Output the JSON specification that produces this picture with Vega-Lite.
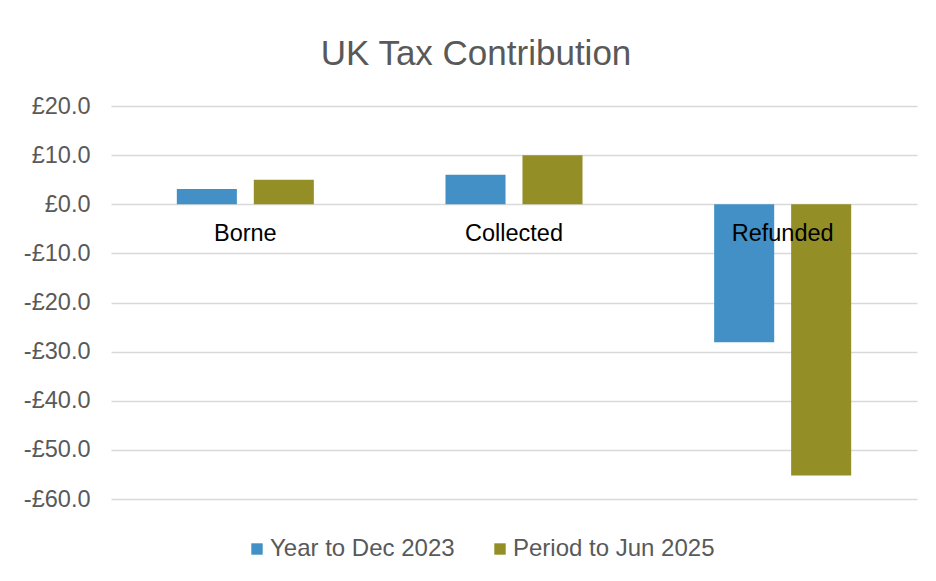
{
  "$schema": "https://vega.github.io/schema/vega-lite/v6.json",
  "autosize": "none",
  "width": 806,
  "height": 393,
  "padding": {"left": 111, "top": 106, "right": 19, "bottom": 82},
  "background": "white",
  "config": {
    "font": "Liberation Sans",
    "view": {"stroke": null}
  },
  "title": {
    "text": "UK Tax Contribution",
    "fontSize": 35,
    "fontWeight": "normal",
    "color": "#595959",
    "font": "Liberation Sans",
    "anchor": "middle",
    "baseline": "alphabetic",
    "offset": 40,
    "dx": -38,
    "dy": 46
  },
  "data": {
    "values": [
      {"category": "Borne", "series": "Year to Dec 2023", "value": 3.1},
      {"category": "Borne", "series": "Period to Jun 2025", "value": 5.0},
      {"category": "Collected", "series": "Year to Dec 2023", "value": 6.0},
      {"category": "Collected", "series": "Period to Jun 2025", "value": 10.0},
      {"category": "Refunded", "series": "Year to Dec 2023", "value": -28.1},
      {"category": "Refunded", "series": "Period to Jun 2025", "value": -55.2}
    ]
  },
  "encoding": {
    "x": {
      "field": "category",
      "type": "nominal",
      "sort": ["Borne", "Collected", "Refunded"],
      "scale": {"paddingInner": 0.49, "paddingOuter": 0.245},
      "axis": null
    }
  },
  "layer": [
    {
      "mark": {"type": "bar"},
      "encoding": {
        "xOffset": {
          "field": "series",
          "type": "nominal",
          "sort": ["Year to Dec 2023", "Period to Jun 2025"],
          "scale": {"paddingInner": 0.22, "paddingOuter": 0}
        },
        "y": {
          "field": "value",
          "type": "quantitative",
          "scale": {"domain": [-60, 20], "nice": false},
          "axis": {
            "title": null,
            "values": [-60, -50, -40, -30, -20, -10, 0, 10, 20],
            "labelExpr": "(datum.value < 0 ? '-£' : '£') + format(abs(datum.value), '.1f')",
            "labelFontSize": 23.5,
            "labelColor": "#595959",
            "labelPadding": 21,
            "domain": false,
            "ticks": false,
            "grid": true,
            "gridColor": "#d9d9d9",
            "gridWidth": 1.3
          }
        },
        "color": {
          "field": "series",
          "type": "nominal",
          "sort": ["Year to Dec 2023", "Period to Jun 2025"],
          "scale": {"range": ["#4290c5", "#938f26"]},
          "legend": {
            "title": null,
            "orient": "none",
            "direction": "horizontal",
            "legendX": 134,
            "legendY": 431,
            "symbolType": "square",
            "symbolSize": 130,
            "symbolStrokeWidth": 0,
            "labelFontSize": 24,
            "labelLimit": 400,
            "labelColor": "#595959",
            "labelOffset": 1,
            "columnPadding": 33
          }
        }
      }
    },
    {
      "transform": [{"filter": "datum.series === 'Year to Dec 2023'"}],
      "mark": {"type": "text", "fontSize": 23.5, "color": "black", "baseline": "alphabetic", "dy": 37},
      "encoding": {
        "y": {"datum": 0},
        "text": {"field": "category"}
      }
    }
  ]
}
